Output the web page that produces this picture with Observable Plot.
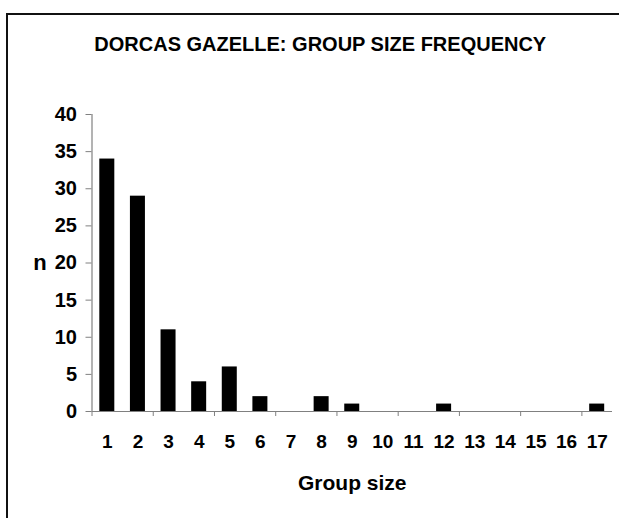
<!DOCTYPE html>
<html>
<head>
<meta charset="utf-8">
<script src="https://cdn.jsdelivr.net/npm/d3@7"></script>
<script src="https://cdn.jsdelivr.net/npm/@observablehq/plot@0.6"></script>
<style>
  html, body { margin: 0; padding: 0; background: #fff; }
  #wrap { position: relative; width: 619px; height: 518px; overflow: hidden; }
  #border { position: absolute; left: 6px; top: 13px; width: 660px; height: 560px;
            border: 2px solid #111; box-sizing: border-box; pointer-events: none; }
  svg { display: block; }
</style>
</head>
<body>
<div id="wrap"><div id="border"></div></div>
<script>
const title = "DORCAS GAZELLE: GROUP SIZE FREQUENCY";
const xLabel = "Group size";
const yLabel = "n";
const groupSizes = [1, 2, 3, 4, 5, 6, 7, 8, 9, 10, 11, 12, 13, 14, 15, 16, 17];
const counts =     [34, 29, 11, 4, 6, 2, 0, 2, 1, 0, 0, 1, 0, 0, 0, 0, 1];
const yTicks = [0, 5, 10, 15, 20, 25, 30, 35, 40];
const xBoundaryTicks = [0.5, 2.5, 4.5, 6.5, 8.5, 10.5, 12.5, 14.5, 16.5];

const data = groupSizes.map((s, i) => ({size: s, n: counts[i]}));
const font = "'Liberation Sans', Arial, Helvetica, sans-serif";
const axisGray = "#808080";

const chart = Plot.plot({
  width: 619,
  height: 518,
  marginLeft: 91.5,
  marginRight: 7,
  marginTop: 114,
  marginBottom: 107,
  style: {fontFamily: font, background: "transparent", color: "#000"},
  x: {type: "linear", domain: [0.5, 17.5]},
  y: {domain: [0, 40]},
  marks: [
    Plot.rectY(data, {x1: d => d.size - 0.245, x2: d => d.size + 0.245, y: "n", fill: "#000"}),
    Plot.ruleX([0.5], {stroke: axisGray, strokeWidth: 1.2}),
    Plot.ruleY([0], {stroke: axisGray, strokeWidth: 1.2}),
    Plot.axisY({ticks: yTicks, tickSize: 6, tickPadding: 9, fontSize: 20, fontWeight: "bold",
                stroke: axisGray, fill: "#000", label: null}),
    Plot.axisX({ticks: xBoundaryTicks, tickSize: 5, tickFormat: () => "", stroke: axisGray, label: null}),
    Plot.axisX({ticks: groupSizes, tickSize: 0, tickPadding: 23, fontSize: 19, fontWeight: "bold",
                tickFormat: d => String(d), fill: "#000", label: null}),
    Plot.text([xLabel], {frameAnchor: "bottom", dy: 78, lineAnchor: "bottom",
                         fontSize: 21, fontWeight: "bold", fill: "#000"}),
    Plot.text([yLabel], {frameAnchor: "left", dx: -52, lineAnchor: "middle", textAnchor: "middle",
                         fontSize: 22, fontWeight: "bold", fill: "#000"}),
    Plot.text([title], {frameAnchor: "top", dx: -32, dy: -64, lineAnchor: "bottom",
                        fontSize: 20, fontWeight: "bold", fill: "#000"})
  ]
});
document.getElementById("wrap").prepend(chart);
</script>
</body>
</html>
